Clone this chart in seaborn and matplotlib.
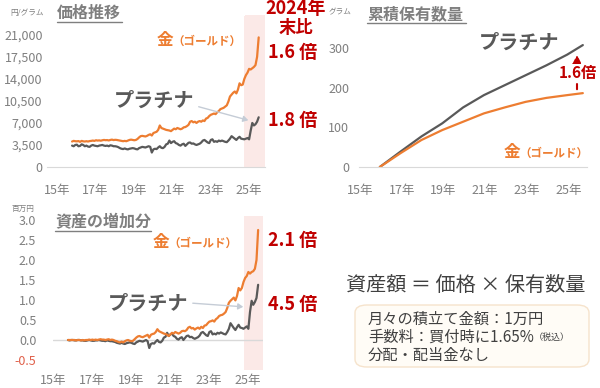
import numpy as np
import pandas as pd
import matplotlib
matplotlib.use("Agg")
import matplotlib.pyplot as plt
from matplotlib.lines import Line2D
from matplotlib.patches import FancyBboxPatch, FancyArrowPatch
from matplotlib.text import Annotation
import seaborn as sns

# ---- data (monthly, Jan 2016 - Oct 2025) ----
gold_price = [
    4050, 4150, 4100, 4080, 4120, 4000, 4150, 4080, 4050, 4100, 4050, 4120,
    4150, 4200, 4150, 4250, 4200, 4230, 4180, 4250, 4300, 4260, 4280, 4220,
    4300, 4350, 4280, 4320, 4300, 4250, 4200, 4150, 4100, 4150, 4100, 4200,
    4300, 4350, 4300, 4250, 4300, 4450, 4700, 4900, 4950, 4900, 4850, 4950,
    5100, 5200, 5000, 5400, 5500, 5600, 5900, 6600, 6200, 6100, 6000, 5900,
    5850, 5800, 5700, 5900, 6100, 6000, 6200, 6100, 6000, 6100, 6300, 6350,
    6500, 6700, 7200, 7300, 7100, 7200, 7000, 7200, 7300, 7200, 7400, 7300,
    7700, 7800, 8100, 8300, 8400, 8500, 8400, 8700, 8900, 9200, 9300, 9400,
    9600, 9800, 10400, 11200, 11500, 11800, 12000, 11700, 12300, 13300, 13000, 13100,
    14000, 14600, 15000, 15600, 15500, 15700, 15900, 16200, 17500, 20600,
]
plat_price = [
    3400, 3300, 3500, 3550, 3300, 3350, 3600, 3500, 3300, 3400, 3250, 3200,
    3400, 3500, 3400, 3350, 3300, 3400, 3450, 3500, 3400, 3350, 3400, 3300,
    3450, 3400, 3300, 3300, 3250, 3150, 3000, 2900, 2850, 2950, 2850, 2800,
    2900, 2950, 3000, 2950, 2850, 2800, 3000, 3100, 3200, 3150, 3100, 3200,
    3300, 3200, 2300, 2800, 2900, 2850, 3100, 3300, 3050, 3000, 3200, 3600,
    3700, 4200, 3800, 4000, 4100, 3800, 3700, 3500, 3400, 3600, 3700, 3350,
    3600, 3850, 3900, 3700, 3750, 3600, 3500, 3600, 3700, 3900, 4200, 4300,
    4100, 3900, 3800, 4300, 4400, 4000, 4100, 4000, 4200, 4100, 4200, 4100,
    4000, 3950, 4200, 4500, 4900, 4700, 4500, 4300, 4600, 4800, 4500, 4450,
    4400, 4500, 4600, 4400, 5800, 7000, 6600, 6800, 7200, 7900,
]
gold_gain = [
    0.0, 0.0, 0.0, 0.0, 0.0, -0.01, 0.0, 0.0, -0.01, 0.0, -0.01, 0.0,
    0.0, 0.01, 0.0, 0.01, 0.0, 0.01, 0.0, 0.01, 0.02, 0.01, 0.01, 0.0,
    0.01, 0.02, 0.0, 0.01, 0.0, -0.02, -0.03, -0.05, -0.06, -0.04, -0.06, -0.03,
    -0.01, 0.0, -0.02, -0.03, -0.02, 0.02, 0.06, 0.09, 0.1, 0.08, 0.07, 0.09,
    0.11, 0.13, 0.06, 0.13, 0.15, 0.16, 0.2, 0.27, 0.22, 0.2, 0.18, 0.16,
    0.15, 0.13, 0.1, 0.14, 0.18, 0.16, 0.2, 0.18, 0.16, 0.18, 0.22, 0.23,
    0.22, 0.25, 0.31, 0.33, 0.29, 0.3, 0.26, 0.29, 0.31, 0.28, 0.33, 0.3,
    0.36, 0.37, 0.42, 0.46, 0.47, 0.49, 0.46, 0.52, 0.55, 0.6, 0.62, 0.63,
    0.66, 0.7, 0.8, 0.93, 0.98, 1.02, 1.06, 0.99, 1.1, 1.3, 1.24, 1.3,
    1.45, 1.55, 1.6, 1.7, 1.66, 1.7, 1.72, 1.78, 2.0, 2.75,
]
plat_gain = [
    0.0, -0.01, 0.0, 0.0, -0.01, -0.01, 0.0, 0.0, -0.01, -0.01, -0.02, -0.02,
    -0.01, 0.0, -0.01, -0.02, -0.02, -0.01, -0.01, 0.0, -0.01, -0.02, -0.02, -0.03,
    -0.01, -0.02, -0.03, -0.03, -0.04, -0.05, -0.07, -0.08, -0.09, -0.07, -0.09, -0.1,
    -0.08, -0.07, -0.06, -0.07, -0.09, -0.1, -0.06, -0.04, -0.02, -0.03, -0.04, -0.02,
    0.0, -0.03, -0.2, -0.1, -0.08, -0.09, -0.04, 0.0, -0.05, -0.06, -0.02, 0.06,
    0.08, 0.18, 0.1, 0.14, 0.16, 0.1, 0.08, 0.03, 0.01, 0.05, 0.07, 0.0,
    0.05, 0.1, 0.11, 0.07, 0.08, 0.05, 0.03, 0.05, 0.07, 0.11, 0.18, 0.2,
    0.16, 0.12, 0.1, 0.2, 0.22, 0.14, 0.16, 0.14, 0.18, 0.16, 0.19, 0.17,
    0.15, 0.14, 0.2, 0.28, 0.42, 0.36, 0.3, 0.25, 0.32, 0.38, 0.31, 0.3,
    0.28, 0.31, 0.34, 0.28, 0.7, 0.98, 0.88, 0.95, 1.05, 1.38,
]
# cumulative holdings (grams), read at each January + last month
hold_years = [16, 17, 18, 19, 20, 21, 22, 23, 24, 25, 25.75]
gold_hold = [0, 35, 68, 93, 114, 135, 150, 164, 174, 181, 186]
plat_hold = [0, 39, 77, 110, 150, 181, 206, 231, 256, 283, 307]

year_labels = ["15年", "17年", "19年", "21年", "23年", "25年"]
price_ticks = [0, 3500, 7000, 10500, 14000, 17500, 21000]
hold_ticks = [0, 100, 200, 300]
gain_ticks = [-0.5, 0.0, 0.5, 1.0, 1.5, 2.0, 2.5, 3.0]

months = pd.date_range("2016-01-01", periods=len(gold_price), freq="MS")
t = np.asarray((months.year - 2000) + (months.month - 1) / 12.0, dtype=float)

GOLD = "#ED7D31"
PLAT = "#595959"
RED = "#C00000"
GRAY = "#7F7F7F"
SHADE = "#FBE9E7"
TXT = "#404040"

sns.set_style("white")
plt.rcParams["font.family"] = ["Noto Sans CJK JP", "DejaVu Sans"]

W, H = 600, 388
fig = plt.figure(figsize=(6, 3.88), dpi=100)


def box(l, t_, r, b):
    return [l / W, 1 - b / H, (r - l) / W, (b - t_) / H]


def fx(x):
    return x / W


def fy(y):
    return 1 - y / H


def ftext(x, y, s, **kw):
    return fig.text(fx(x), fy(y), s, va="center", **kw)


def underline(x0, x1, y):
    fig.add_artist(Line2D([fx(x0), fx(x1)], [fy(y), fy(y)], color=GRAY, lw=1.0,
                          transform=fig.transFigure))


def style_axis(ax):
    for s in ["top", "right", "left", "bottom"]:
        ax.spines[s].set_visible(False)
    ax.tick_params(length=0, colors=GRAY, labelsize=9)
    ax.set_xlabel("")
    ax.set_ylabel("")


# ---- panel 1: price ----
ax1 = fig.add_axes(box(47, 16, 265, 167))
ax1.axvspan(25.0, 26.08, color=SHADE, lw=0)
sns.lineplot(x=t, y=plat_price, ax=ax1, color=PLAT, lw=1.6)
sns.lineplot(x=t, y=gold_price, ax=ax1, color=GOLD, lw=1.6)
ax1.set_xlim(14.69, 26.08)
ax1.set_ylim(0, 24000)
style_axis(ax1)
ax1.spines["bottom"].set_visible(True)
ax1.spines["bottom"].set_color("#D9D9D9")
ax1.set_yticks(price_ticks)
ax1.set_yticklabels([f"{v:,}" for v in price_ticks])
ax1.set_xticks([15.22 + 2 * k for k in range(6)])
ax1.set_xticklabels(year_labels)
ax1.tick_params(axis="y", pad=3)
ax1.tick_params(axis="x", pad=12)

# ---- panel 2: holdings ----
ax2 = fig.add_axes(box(359, 28, 587, 167))
sns.lineplot(x=hold_years, y=plat_hold, ax=ax2, color=PLAT, lw=1.6)
sns.lineplot(x=hold_years, y=gold_hold, ax=ax2, color=GOLD, lw=1.6)
ax2.set_xlim(15.0, 25.95)
ax2.set_ylim(0, 350)
style_axis(ax2)
ax2.spines["bottom"].set_visible(True)
ax2.spines["bottom"].set_color("#D9D9D9")
ax2.set_yticks(hold_ticks)
ax2.set_xticks([15.05 + 2 * k for k in range(6)])
ax2.set_xticklabels(year_labels)
ax2.tick_params(axis="y", pad=7)
ax2.tick_params(axis="x", pad=12)

# ---- panel 3: asset gain ----
ax3 = fig.add_axes(box(53, 216, 263, 370))
ax3.axvspan(25.0, 26.0, color=SHADE, lw=0)
ax3.axhline(0, color="#D9D9D9", lw=1)
sns.lineplot(x=t, y=plat_gain, ax=ax3, color=PLAT, lw=1.6)
sns.lineplot(x=t, y=gold_gain, ax=ax3, color=GOLD, lw=1.6)
ax3.set_xlim(15.23, 26.0)
ax3.set_ylim(-0.75, 3.1)
style_axis(ax3)
ax3.set_yticks(gain_ticks)
ax3.set_yticklabels([f"{v:.1f}" for v in gain_ticks])
ax3.get_yticklabels()[0].set_color("#E0604A")
ax3.set_xticks([15.23 + 2 * k for k in range(6)])
ax3.set_xticklabels(year_labels)
ax3.tick_params(axis="y", pad=12)
ax3.tick_params(axis="x", pad=3)

# ---- annotations ----
# panel 1
ftext(10, 13, "円/グラム", fontsize=5.5, color=GRAY)
ftext(57, 13, "価格推移", fontsize=11.5, color=GRAY, fontweight="bold")
underline(57, 122, 22)
fig.add_artist(FancyBboxPatch((fx(245), fy(168)), fx(20), fy(15) - fy(168),
                              boxstyle="square,pad=0", fc=SHADE, ec="none",
                              transform=fig.transFigure, zorder=-1))
ftext(296, 9, "2024年", fontsize=13, color=RED, fontweight="bold", ha="center")
ftext(296, 28, "末比", fontsize=12.5, color=RED, fontweight="bold", ha="center")
ftext(157, 40, "金", fontsize=12, color=GOLD, fontweight="bold")
ftext(172, 41, "（ゴールド）", fontsize=8.3, color=GOLD, fontweight="bold")
ftext(268, 52, "1.6 倍", fontsize=13, color=RED, fontweight="bold")
ftext(114, 100, "プラチナ", fontsize=14.5, color=PLAT, fontweight="bold")
ftext(268, 121, "1.8 倍", fontsize=13, color=RED, fontweight="bold")
fig.add_artist(FancyArrowPatch(
    (fx(196), fy(106)), (fx(251), fy(121)), transform=fig.transFigure,
    arrowstyle="-|>,head_length=3,head_width=1.8", color="#C5CCD6", lw=1))

# panel 2
ftext(329, 12, "グラム", fontsize=5.5, color=GRAY)
ftext(367, 14, "累積保有数量", fontsize=11.5, color=GRAY, fontweight="bold")
underline(367, 466, 23)
ftext(479, 42, "プラチナ", fontsize=14.5, color=PLAT, fontweight="bold")
fig.add_artist(FancyArrowPatch(
    (fx(577), fy(92)), (fx(577), fy(52)), transform=fig.transFigure,
    arrowstyle="-|>,head_length=5,head_width=2.5", color=RED, lw=1.5,
    linestyle=(0, (2.5, 2)), zorder=2))
fig.text(fx(578), fy(73), "1.6倍", fontsize=11, color=RED, fontweight="bold",
         ha="center", va="center", zorder=3,
         bbox=dict(boxstyle="square,pad=0.05", fc="white", ec="none"))
ftext(504, 152, "金", fontsize=12, color=GOLD, fontweight="bold")
ftext(519, 153, "（ゴールド）", fontsize=8.3, color=GOLD, fontweight="bold")

# panel 3
ftext(12, 209, "百万円", fontsize=5.5, color=GRAY)
ftext(55, 222, "資産の増加分", fontsize=11.5, color=GRAY, fontweight="bold")
underline(55, 151, 231)
ftext(153, 242, "金", fontsize=12, color=GOLD, fontweight="bold")
ftext(168, 243, "（ゴールド）", fontsize=8.3, color=GOLD, fontweight="bold")
ftext(268, 241, "2.1 倍", fontsize=13, color=RED, fontweight="bold")
ftext(108, 303, "プラチナ", fontsize=14.5, color=PLAT, fontweight="bold")
ftext(268, 304, "4.5 倍", fontsize=13, color=RED, fontweight="bold")
fig.add_artist(FancyArrowPatch(
    (fx(190), fy(303)), (fx(246), fy(307)), transform=fig.transFigure,
    arrowstyle="-|>,head_length=3,head_width=1.8", color="#C5CCD6", lw=1))

# formula and conditions box
ftext(346, 285, "資産額 ＝ 価格 × 保有数量", fontsize=14.5, color=TXT)
fig.add_artist(FancyBboxPatch((fx(355), fy(367)), fx(234), fy(305) - fy(367),
                              boxstyle="round,pad=0,rounding_size=0.02",
                              fc="#FFFCF6", ec="#F6E3CC", lw=1,
                              transform=fig.transFigure, zorder=1))
ftext(368, 319, "月々の積立て金額：1万円", fontsize=11, color=TXT, zorder=4)
fee = ftext(368, 337, "手数料：買付時に1.65%", fontsize=11, color=TXT, zorder=4)
fig.add_artist(Annotation("（税込）", xy=(1, 0.45), xycoords=fee,
                          xytext=(0, 0), textcoords="offset points",
                          fontsize=6.5, color=TXT, va="center", ha="left",
                          zorder=5))
ftext(368, 355, "分配・配当金なし", fontsize=11, color=TXT, zorder=4)

fig.savefig("out.png", dpi=100)
